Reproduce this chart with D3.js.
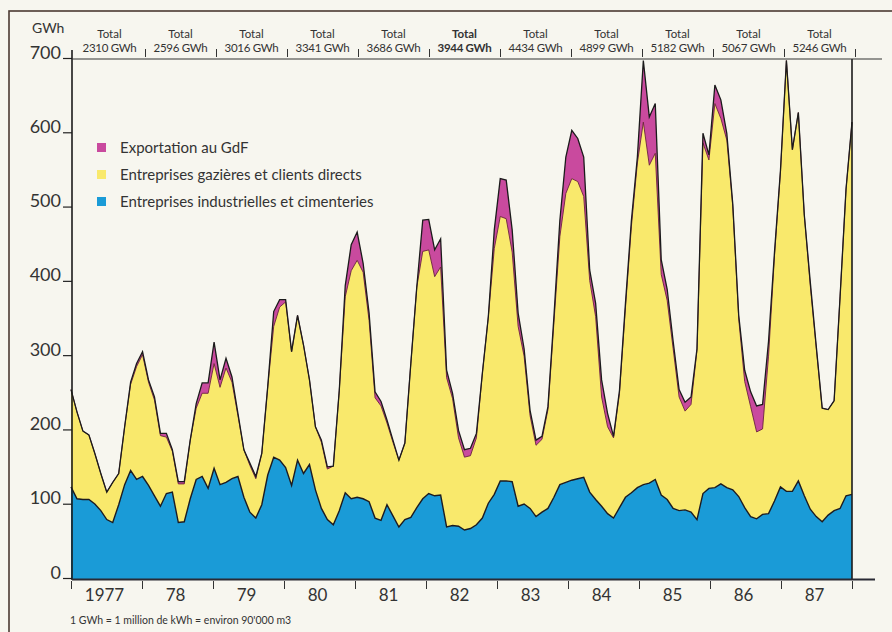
<!DOCTYPE html>
<html><head><meta charset="utf-8">
<script src="https://cdn.jsdelivr.net/npm/d3@7"></script>
<style>
html,body{margin:0;padding:0;background:#f7f6ef;}
svg{display:block;font-family:Lato,"Open Sans",sans-serif;}
</style></head>
<body><svg id="c" width="892" height="632"></svg>
<script>
// ---- data (monthly, Jan 1977 - Dec 1987, GWh) ----
const years = ["1977","78","79","80","81","82","83","84","85","86","87"];
const yearTotals = ["2310 GWh","2596 GWh","3016 GWh","3341 GWh","3686 GWh","3944 GWh","4434 GWh","4899 GWh","5182 GWh","5067 GWh","5246 GWh"];
const yTicks = [0,100,200,300,400,500,600,700];
const seriesNames = ["Exportation au GdF","Entreprises gazières et clients directs","Entreprises industrielles et cimenteries"];

const industrielles = [
 124,108,107,107,101,92,80,76,100,127,146,134,
 138,126,112,98,115,117,76,77,108,134,138,122,
 149,127,130,135,138,110,90,82,100,140,164,160,
 150,126,160,142,154,120,95,80,73,92,116,108,
 110,108,104,82,79,100,85,70,80,83,96,108,
 115,112,113,70,72,71,66,68,73,82,102,114,
 132,132,131,98,101,95,84,90,95,110,127,130,
 133,135,137,117,107,98,88,82,96,110,116,123,
 127,129,134,113,107,95,92,93,90,80,115,122,
 123,128,123,120,111,96,84,81,87,88,105,124,
 118,118,132,112,94,84,77,86,92,95,112,114];
const gazieres = [
 131,117,92,87,68,50,37,54,42,78,116,152,
 164,139,129,95,76,55,52,51,79,96,112,128,
 141,131,154,130,82,64,63,53,69,119,176,206,
 223,180,195,173,114,85,89,68,79,162,264,307,
 319,305,244,162,154,110,99,90,103,207,297,333,
 328,295,307,201,171,119,98,98,117,195,251,331,
 356,353,309,242,199,125,96,98,133,235,334,389,
 406,400,378,285,246,147,117,108,154,255,359,437,
 488,428,439,297,268,215,153,133,145,228,472,442,
 517,492,468,382,239,170,148,117,115,212,330,424,
 580,460,496,378,301,227,153,142,148,285,413,501];
const exportation = [
 0,0,0,0,0,0,0,0,0,0,3,4,
 4,3,4,3,5,2,3,3,0,6,14,14,
 29,10,13,7,3,0,3,3,0,0,20,10,
 3,0,0,0,0,0,3,3,0,0,15,35,
 38,12,10,8,6,4,3,0,0,0,0,42,
 41,36,38,10,7,10,10,10,6,0,0,25,
 51,52,30,18,10,7,7,4,4,8,22,49,
 65,58,53,14,18,23,18,2,4,6,8,8,
 83,65,67,20,15,10,10,12,10,2,13,7,
 25,25,9,3,5,15,20,35,33,20,5,2,
 0,0,0,0,5,3,0,0,0,0,0,0];

const colors = {ind:"#1a9bd7", gaz:"#f9e96c", exp:"#c94a9e"};

// ---- build ----
const svg = d3.select("#c");
svg.append("rect").attr("width",892).attr("height",632).attr("fill","#f7f6ef");
svg.append("rect").attr("x",9).attr("y",11).attr("width",900).attr("height",700)
  .attr("fill","none").attr("stroke","#4b3a32").attr("stroke-width",1.6);

const n = industrielles.length;
const data = d3.range(n).map(i => ({i, ind:industrielles[i], gaz:gazieres[i], exp:exportation[i]}));
const stack = d3.stack().keys(["ind","gaz","exp"])(data);

const xYear = d3.scaleLinear().domain([0, years.length]).range([71, 852]);
const xm = i => xYear(i * years.length / (n - 1));
const y = d3.scaleLinear().domain([0, 700]).range([579, 59]);

const area = d3.area().x(d => xm(d.data.i)).y0(d => y(d[0])).y1(d => y(d[1]));
const topLine = d3.line().x(d => xm(d.data.i)).y(d => y(d[1]));

const fills = [colors.ind, colors.gaz, colors.exp];
stack.forEach((s, k) => {
  svg.append("path").datum(s).attr("d", area).attr("fill", fills[k]).attr("stroke","none");
});
svg.append("path").datum(stack[1]).attr("d", topLine).attr("fill","none").attr("stroke","#6b2438").attr("stroke-width",0.9);
svg.append("path").datum(stack[0]).attr("d", topLine).attr("fill","none").attr("stroke","#1b1b22").attr("stroke-width",1.4);
svg.append("path").datum(stack[2]).attr("d", topLine).attr("fill","none").attr("stroke","#1b1b1b").attr("stroke-width",1.3);

// left axis
const yAxis = d3.axisLeft(y).tickValues(yTicks).tickSize(9).tickSizeOuter(0).tickPadding(2);
const ga = svg.append("g").attr("transform","translate(72,0)").call(yAxis);
ga.select(".domain").remove();
ga.selectAll(".tick line").attr("stroke","#222").attr("stroke-width",1.2).attr("transform","translate(0,-1)");
ga.selectAll(".tick text").attr("dy","-0.05em").attr("font-size",18).attr("fill","#333")
  .attr("font-family","Lato,sans-serif");
svg.append("line").attr("x1",72).attr("x2",72).attr("y1",50).attr("y2",580).attr("stroke","#1b1b1b").attr("stroke-width",1.6);
svg.append("line").attr("x1",852).attr("x2",852).attr("y1",59).attr("y2",580).attr("stroke","#1b1b1b").attr("stroke-width",1.6);

svg.append("text").attr("x",32).attr("y",33).attr("font-size",14).attr("fill","#333").text("GWh");

// bottom axis
svg.append("line").attr("x1",72).attr("x2",875).attr("y1",579.5).attr("y2",579.5).attr("stroke","#2a2a35").attr("stroke-width",1.8);
const xb = d3.axisBottom(xYear).tickValues(d3.range(0, years.length + 1)).tickSize(8).tickFormat("");
const gb = svg.append("g").attr("transform","translate(0,581)").call(xb);
gb.select(".domain").remove();
gb.selectAll(".tick line").attr("stroke","#333").attr("stroke-width",1);
svg.append("g").selectAll("text").data(years).join("text")
  .attr("x",(d,k)=>xYear(k+0.5)-2).attr("y",601).attr("text-anchor","middle")
  .attr("font-size",17).attr("fill","#333").text(d=>d);

// top line with yearly totals
svg.append("line").attr("x1",72).attr("x2",882).attr("y1",59).attr("y2",59).attr("stroke","#333").attr("stroke-width",1.2);
const xt = d3.axisTop(xYear).tickValues(d3.range(1, years.length + 1)).tickSize(8).tickFormat("");
const gt = svg.append("g").attr("transform","translate(3,57)").call(xt);
gt.select(".domain").remove();
gt.selectAll(".tick line").attr("stroke","#333").attr("stroke-width",1);
const tg = svg.append("g");
tg.selectAll("text.t1").data(years).join("text").attr("class","t1")
  .attr("x",(d,k)=>xYear(k+0.5)+3).attr("y",38).attr("text-anchor","middle")
  .attr("font-size",11.5).attr("fill","#333").attr("font-weight",(d,k)=>k===5?"bold":"normal").text("Total");
tg.selectAll("text.t2").data(yearTotals).join("text").attr("class","t2")
  .attr("x",(d,k)=>xYear(k+0.5)+3).attr("y",52).attr("text-anchor","middle")
  .attr("font-size",11.5).attr("letter-spacing",-0.3).attr("fill","#333")
  .attr("font-weight",(d,k)=>k===5?"bold":"normal").text(d=>d);

// legend
const legColors = [colors.exp, colors.gaz, colors.ind];
const lg = svg.append("g");
seriesNames.forEach((name,k)=>{
  const yy = 148 + k*27;
  lg.append("rect").attr("x",97).attr("y",yy-5).attr("width",9).attr("height",9).attr("fill",legColors[k]);
  lg.append("text").attr("x",120).attr("y",yy+5).attr("font-size",15).attr("fill","#333").text(name);
});

// footnote
svg.append("text").attr("x",70).attr("y",624).attr("font-size",10.5).attr("fill","#333")
  .text("1 GWh = 1 million de kWh = environ 90'000 m3");
</script>
</body></html>
